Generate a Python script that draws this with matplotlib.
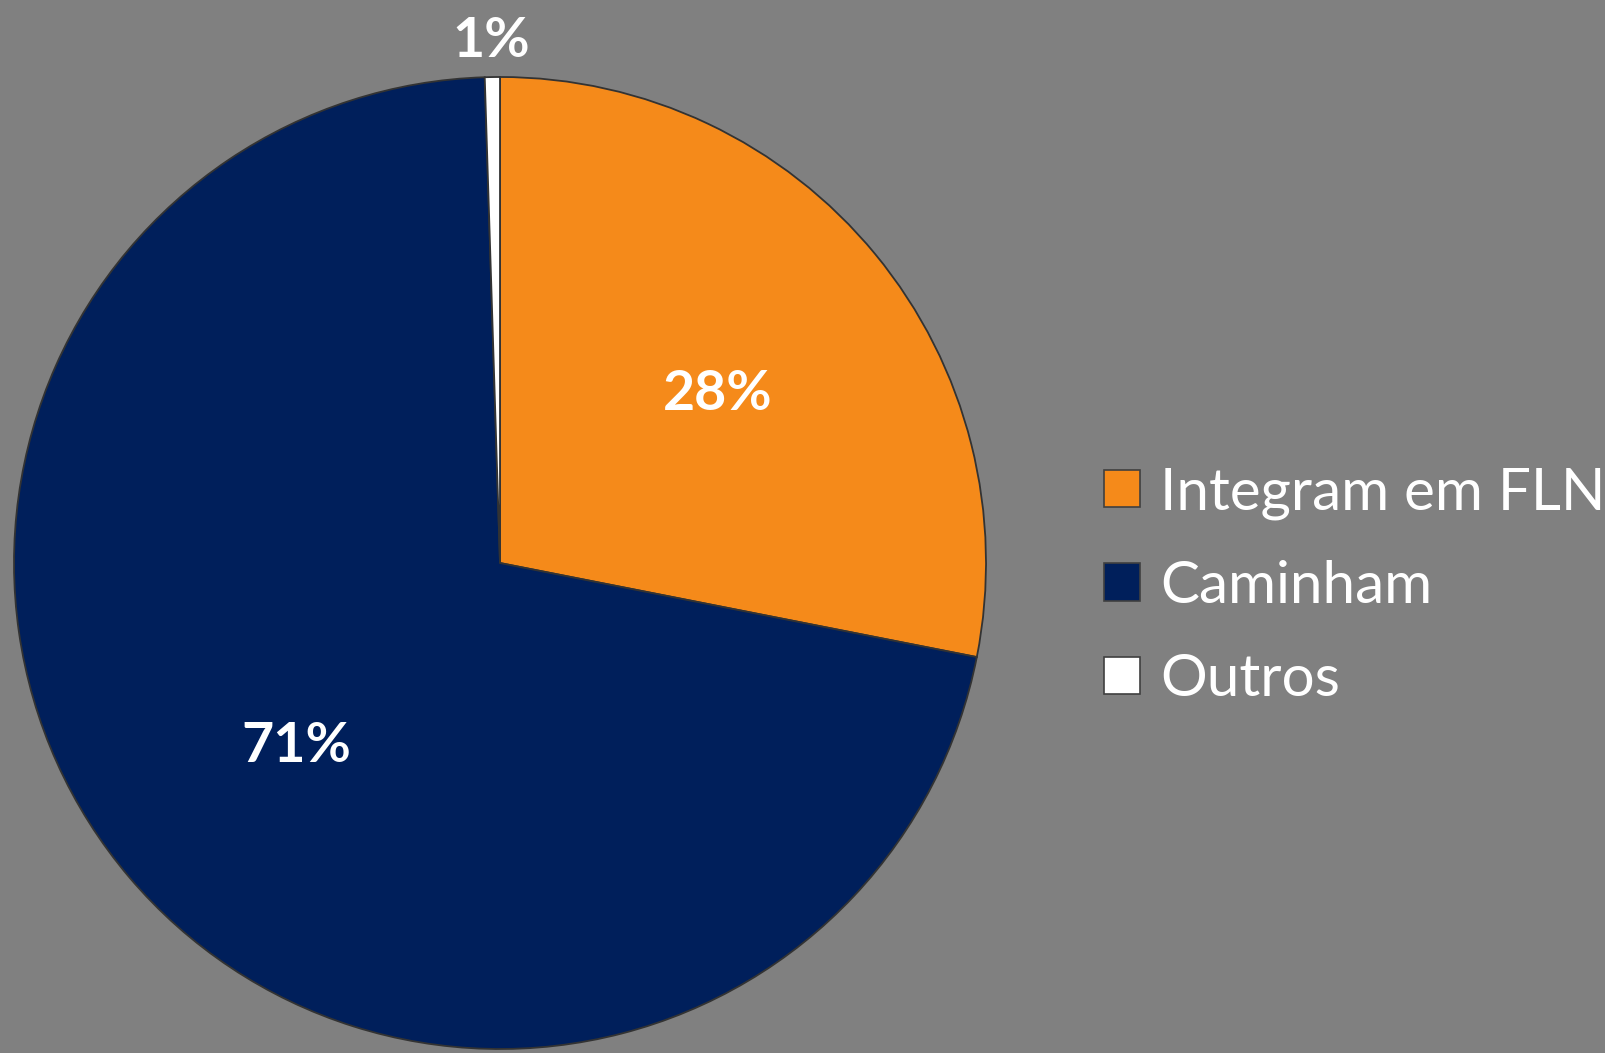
import numpy as np
import matplotlib.pyplot as plt
from matplotlib.patches import Patch

categories = ["Integram em FLN", "Caminham", "Outros"]
shares = [28.1, 71.4, 0.5]
colors = ["#F58A1A", "#001F5B", "#FFFFFF"]
label_dist = [0.58, 0.55, 1.094]

plt.rcParams['font.family'] = ['Lato', 'DejaVu Sans']

W, H = 1606, 1053
fig = plt.figure(figsize=(W / 100, H / 100), dpi=100, facecolor="#808080")

# square axes holding the pie, sized in pixels
cx, cy, r = 500, 563, 486
ax = fig.add_axes([(cx - r) / W, 1 - (cy + r) / H, 2 * r / W, 2 * r / H])
wedges, _ = ax.pie(shares, colors=colors, startangle=90, counterclock=False,
                   wedgeprops=dict(edgecolor="#333333", linewidth=1.3))
ax.set_xlim(-1, 1)
ax.set_ylim(-1, 1)
ax.set_facecolor("none")
ax.set_aspect("auto")

# percentage labels placed along each wedge's middle angle
for w, v, d in zip(wedges, shares, label_dist):
    ang = np.deg2rad((w.theta1 + w.theta2) / 2)
    ax.annotate(f"{int(v + 0.5)}%", (d * np.cos(ang), d * np.sin(ang)),
                xytext=(0, -7), textcoords="offset points",
                ha="center", va="center", color="white", fontsize=40,
                fontweight="bold", annotation_clip=False)

handles = [Patch(facecolor=c, edgecolor="#404040", linewidth=1.2) for c in colors]
fig.legend(handles, categories, loc="center left",
           bbox_to_anchor=(1104 / W, 1 - 586 / H), frameon=False,
           fontsize=42, labelcolor="white", handlelength=0.62, handleheight=0.62,
           handletextpad=0.34, labelspacing=0.69, borderpad=0, borderaxespad=0)

fig.savefig("out.png", dpi=100, facecolor=fig.get_facecolor())
